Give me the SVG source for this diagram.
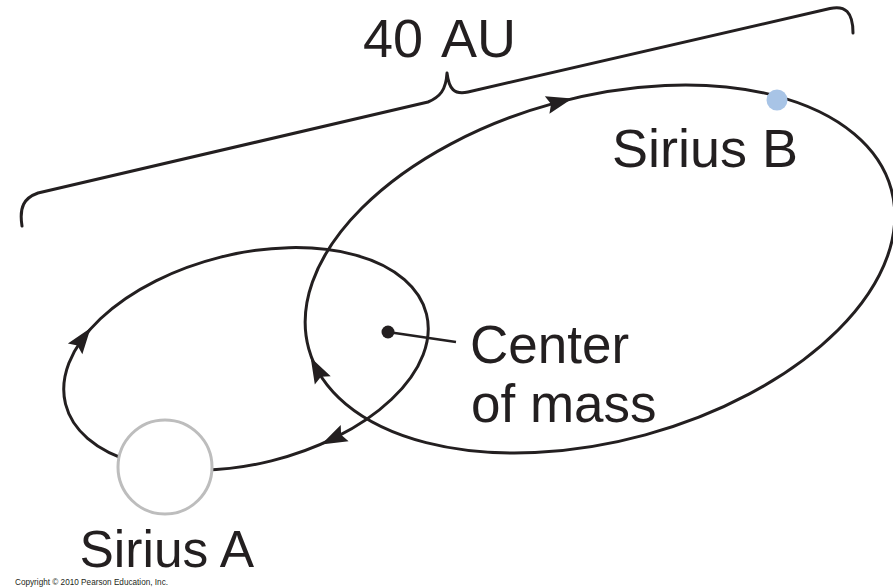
<svg xmlns="http://www.w3.org/2000/svg" width="893" height="588" viewBox="0 0 893 588">
  <style>
    .orbit { fill: none; stroke: #231f20; stroke-width: 3; }
    .brace { fill: none; stroke: #231f20; stroke-width: 3; stroke-linecap: round; stroke-linejoin: round; }
    .lead { stroke: #231f20; stroke-width: 2.6; }
    .lbl { font-family: "Liberation Sans", Arial, Helvetica, sans-serif; fill: #231f20; }
    .copy { font-family: "Liberation Sans", Arial, Helvetica, sans-serif; fill: #231f20; font-size: 8.2px; }
    .arr { fill: #231f20; }
  </style>
  <defs>
    <path id="arrowhead" d="M13,0 L-13,-9 L-9,0 L-13,9 Z"/>
  </defs>
  <rect width="893" height="588" fill="#ffffff"/>

  <g id="brace-40au">
    <path class="brace" d="M22,226 C19,207 24,198 38,193 L428,102 C440,97 446,90 447,73 C449,89 454,95 468,92 L830,8.5 C845,5 853,12 853,33"/>
    <text class="lbl" x="363" y="57" font-size="54" word-spacing="6">40 AU</text>
  </g>

  <g id="orbit-sirius-b" transform="translate(600,269) rotate(-15.3)">
    <ellipse class="orbit" cx="0" cy="0" rx="302" ry="172"/>
    <use href="#arrowhead" class="arr" transform="translate(-299.6,21.6) rotate(-102.5)"/>
    <use href="#arrowhead" class="arr" transform="translate(5.3,-172) rotate(0.6)"/>
  </g>

  <g id="orbit-sirius-a" transform="translate(246,359) rotate(-14)">
    <ellipse class="orbit" cx="0" cy="0" rx="186" ry="105"/>
    <use href="#arrowhead" class="arr" transform="translate(-153.3,-59.5) rotate(-39.4)"/>
    <use href="#arrowhead" class="arr" transform="translate(65.1,98.4) rotate(168.1)"/>
  </g>

  <g id="connectors">
    <line class="lead" x1="388" y1="332" x2="456" y2="342"/>
  </g>

  <g id="sirius-a">
    <circle cx="165" cy="467" r="47" fill="#ffffff" stroke="#bdbdbd" stroke-width="3"/>
    <text class="lbl" x="79.5" y="567" font-size="51.5">Sirius A</text>
  </g>

  <g id="sirius-b">
    <circle cx="777" cy="100" r="10.5" fill="#a8c4e6"/>
    <text class="lbl" x="612" y="167" font-size="54">Sirius B</text>
  </g>

  <g id="center-of-mass">
    <circle cx="388" cy="332" r="6.5" fill="#231f20"/>
    <text class="lbl" x="470" y="363" font-size="53">Center</text>
    <text class="lbl" x="471" y="422" font-size="53">of mass</text>
  </g>

  <text class="copy" x="15" y="585">Copyright © 2010 Pearson Education, Inc.</text>
</svg>
